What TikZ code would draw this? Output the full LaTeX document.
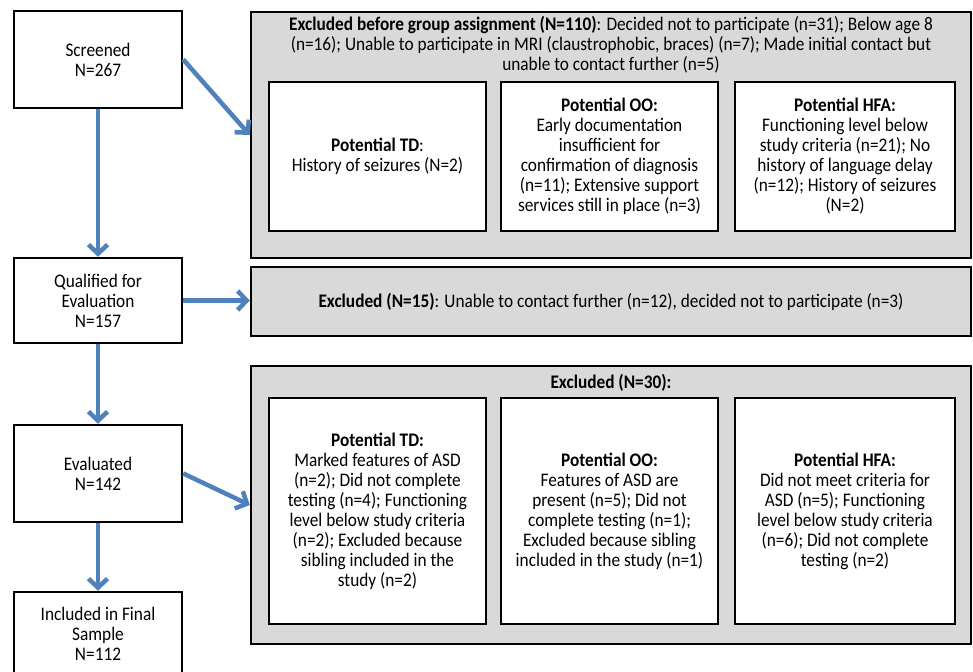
\documentclass[tikz,border=0pt]{standalone}
\usepackage{fontspec}
\setmainfont{Carlito}[FakeStretch=0.9]
\usetikzlibrary{arrows.meta}
\definecolor{arrowblue}{HTML}{4F81BD}
\definecolor{boxgray}{HTML}{D9D9D9}
\begin{document}
\begin{tikzpicture}[x=1pt,y=-1pt,
  every node/.style={font=\fontsize{19.2}{20}\selectfont, align=center, inner sep=0pt},
  leftbox/.style={draw=black, line width=2.5pt, fill=white, minimum width=168pt},
  graybox/.style={draw=black, line width=2.5pt, fill=boxgray, minimum width=720pt},
  innerbox/.style={draw=black, line width=2.5pt, fill=white},
  flow/.style={draw=arrowblue, line width=4.5pt, -{Straight Barb[length=9pt,width=19pt]}}
]
\useasboundingbox[fill=white] (0,0) rectangle (973,671);

% left column
\node[leftbox, minimum height=97pt] (sc) at (98,59.5) {Screened\\N=267};
\node[leftbox, minimum height=85pt] (qu) at (98,300.5) {Qualified for\\Evaluation\\N=157};
\node[leftbox, minimum height=97pt] (ev) at (98,473.5) {Evaluated\\N=142};
\node[leftbox, minimum height=84pt] (in) at (98,634) {Included in Final\\Sample\\N=112};

% gray box 1
\node[graybox, minimum height=246pt] (g1) at (611,135) {};
\node (h1) at (611,45) {\textbf{Excluded before group assignment (N=110)}: Decided not to participate (n=31); Below age 8\\(n=16); Unable to participate in MRI (claustrophobic, braces) (n=7); Made initial contact but\\unable to contact further (n=5)};
\node[innerbox, minimum width=217pt, minimum height=149pt] (td1) at (377.5,156.5) {\textbf{Potential TD}:\\History of seizures (N=2)};
\node[innerbox, minimum width=217pt, minimum height=149pt] (oo1) at (609.5,156.5) {\textbf{Potential OO:}\\Early documentation\\insufficient for\\confirmation of diagnosis\\(n=11); Extensive support\\services still in place (n=3)};
\node[innerbox, minimum width=220pt, minimum height=149pt] (hf1) at (845,156.5) {\textbf{Potential HFA:}\\Functioning level below\\study criteria (n=21); No\\history of language delay\\(n=12); History of seizures\\(N=2)};

% gray box 2
\node[graybox, minimum height=69pt] (g2) at (611,301.5) {\textbf{Excluded (N=15)}: Unable to contact further (n=12), decided not to participate (n=3)};

% gray box 3
\node[graybox, minimum height=278pt] (g3) at (611,505) {};
\node (h3) at (611,383) {\textbf{Excluded (N=30):}};
\node[innerbox, minimum width=217pt, minimum height=226pt] (td3) at (377.5,511) {\textbf{Potential TD:}\\Marked features of ASD\\(n=2); Did not complete\\testing (n=4); Functioning\\level below study criteria\\(n=2); Excluded because\\sibling included in the\\study (n=2)};
\node[innerbox, minimum width=217pt, minimum height=226pt] (oo3) at (609.5,511) {\textbf{Potential OO:}\\Features of ASD are\\present (n=5); Did not\\complete testing (n=1);\\Excluded because sibling\\included in the study (n=1)};
\node[innerbox, minimum width=220pt, minimum height=226pt] (hf3) at (845,511) {\textbf{Potential HFA:}\\Did not meet criteria for\\ASD (n=5); Functioning\\level below study criteria\\(n=6); Did not complete\\testing (n=2)};

% arrows
\draw[flow] (sc.east) -- (g1.west);
\draw[flow] (sc.south) -- (qu.north);
\draw[flow] (qu.east) -- (qu.east -| g2.west);
\draw[flow] (qu.south) -- (ev.north);
\draw[flow] (ev.east) -- (g3.west);
\draw[flow] (ev.south) -- (in.north);
\end{tikzpicture}
\end{document}
